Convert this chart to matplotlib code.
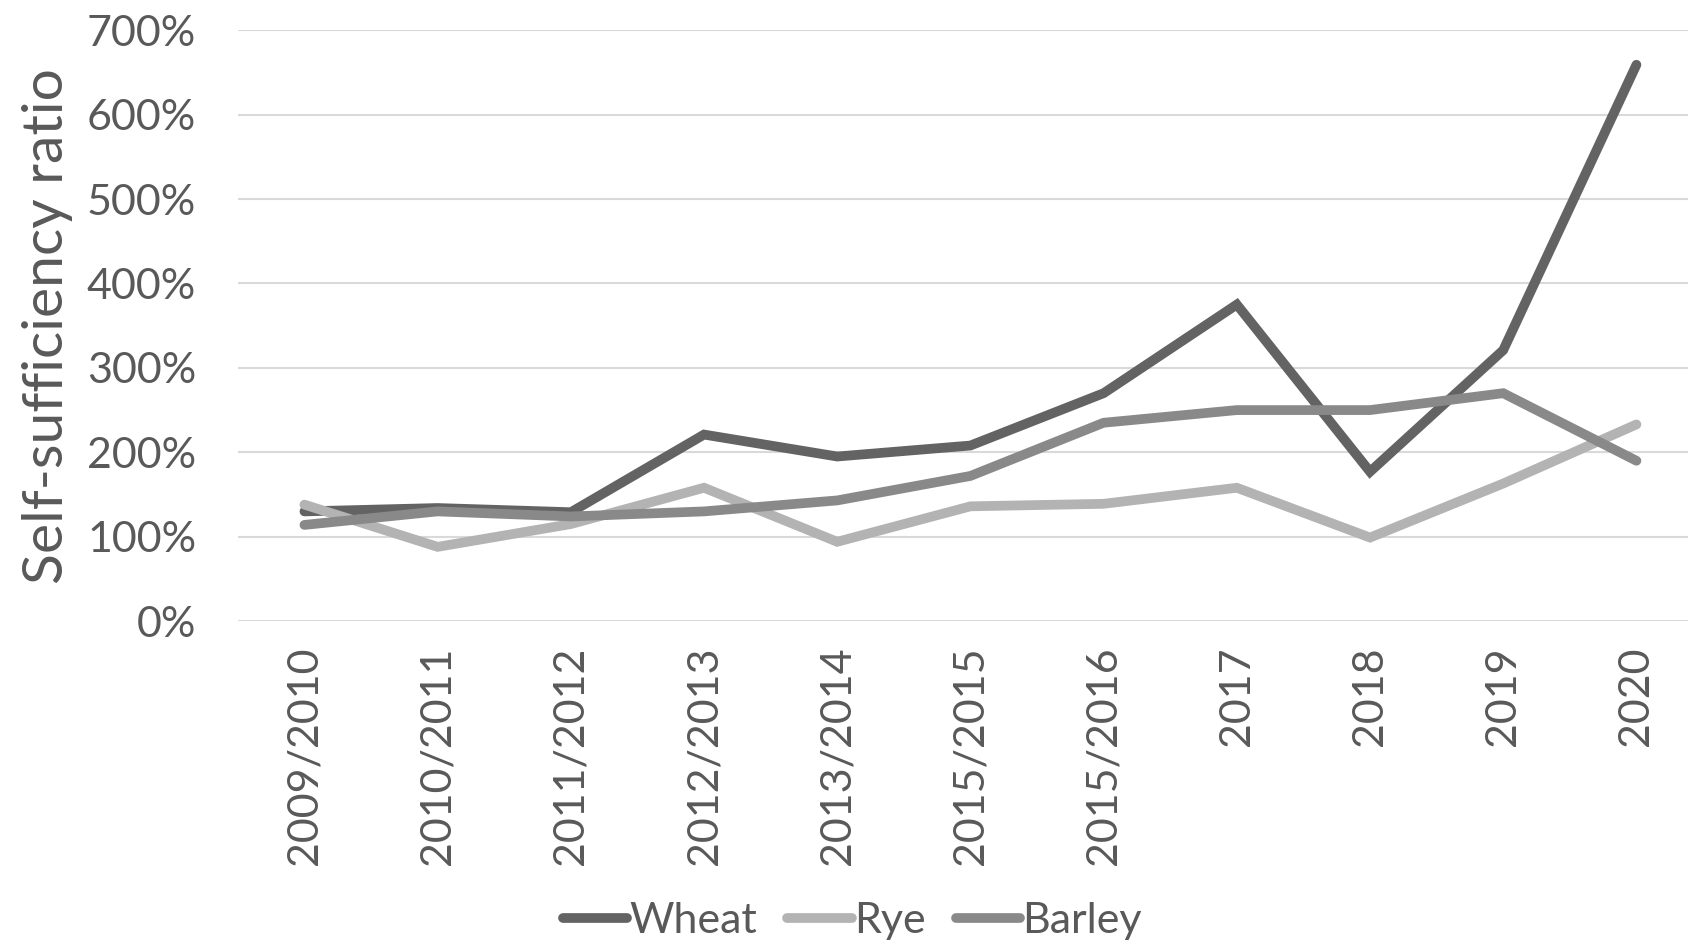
import matplotlib.pyplot as plt
from matplotlib.ticker import FuncFormatter

# Self-sufficiency ratios (fraction, 1.0 = 100%)
seasons = ["2009/2010", "2010/2011", "2011/2012", "2012/2013", "2013/2014",
           "2015/2015", "2015/2016", "2017", "2018", "2019", "2020"]
wheat = [1.30, 1.34, 1.29, 2.21, 1.95, 2.08, 2.70, 3.75, 1.77, 3.21, 6.59]
rye = [1.38, 0.88, 1.15, 1.58, 0.94, 1.36, 1.39, 1.58, 0.99, 1.63, 2.33]
barley = [1.14, 1.30, 1.24, 1.30, 1.43, 1.72, 2.35, 2.50, 2.50, 2.70, 1.90]

TEXT = "#595959"
plt.rcParams["font.family"] = ["Lato", "DejaVu Sans"]

fig = plt.figure(figsize=(16.88, 9.42), dpi=100)
ax = fig.add_axes([0.1409, 0.3406, 0.868, 0.6274])

x = range(len(seasons))
lw = 7
ax.plot(x, wheat, color="#636363", lw=lw, solid_capstyle="round", solid_joinstyle="miter", label="Wheat", zorder=3)
ax.plot(x, rye, color="#b3b3b3", lw=lw, solid_capstyle="round", solid_joinstyle="miter", label="Rye", zorder=3)
ax.plot(x, barley, color="#898989", lw=lw, solid_capstyle="round", solid_joinstyle="miter", label="Barley", zorder=3)

ax.set_xlim(-0.5, len(seasons) - 0.5)
ax.set_ylim(0, 7)
ax.set_yticks(range(0, 8))
ax.yaxis.set_major_formatter(FuncFormatter(lambda v, _: f"{int(round(v * 100))}%"))
ax.set_xticks(list(x))
ax.set_xticklabels(seasons, rotation=90)
ax.grid(axis="y", color="#d9d9d9", lw=1.5)
ax.set_axisbelow(True)
for s in ax.spines.values():
    s.set_visible(False)
ax.tick_params(axis="both", length=0, labelsize=31, colors=TEXT)
ax.tick_params(axis="y", pad=30)
ax.tick_params(axis="x", pad=18)
ax.set_ylabel("Self-sufficiency ratio", fontsize=41, color=TEXT, labelpad=10)

fig.legend(loc="center", bbox_to_anchor=(0.505, 0.022), ncol=3, frameon=False,
           fontsize=31, labelcolor=TEXT, handlelength=1.5, handletextpad=0.05,
           columnspacing=0.7)

fig.savefig("out.png", dpi=100)
